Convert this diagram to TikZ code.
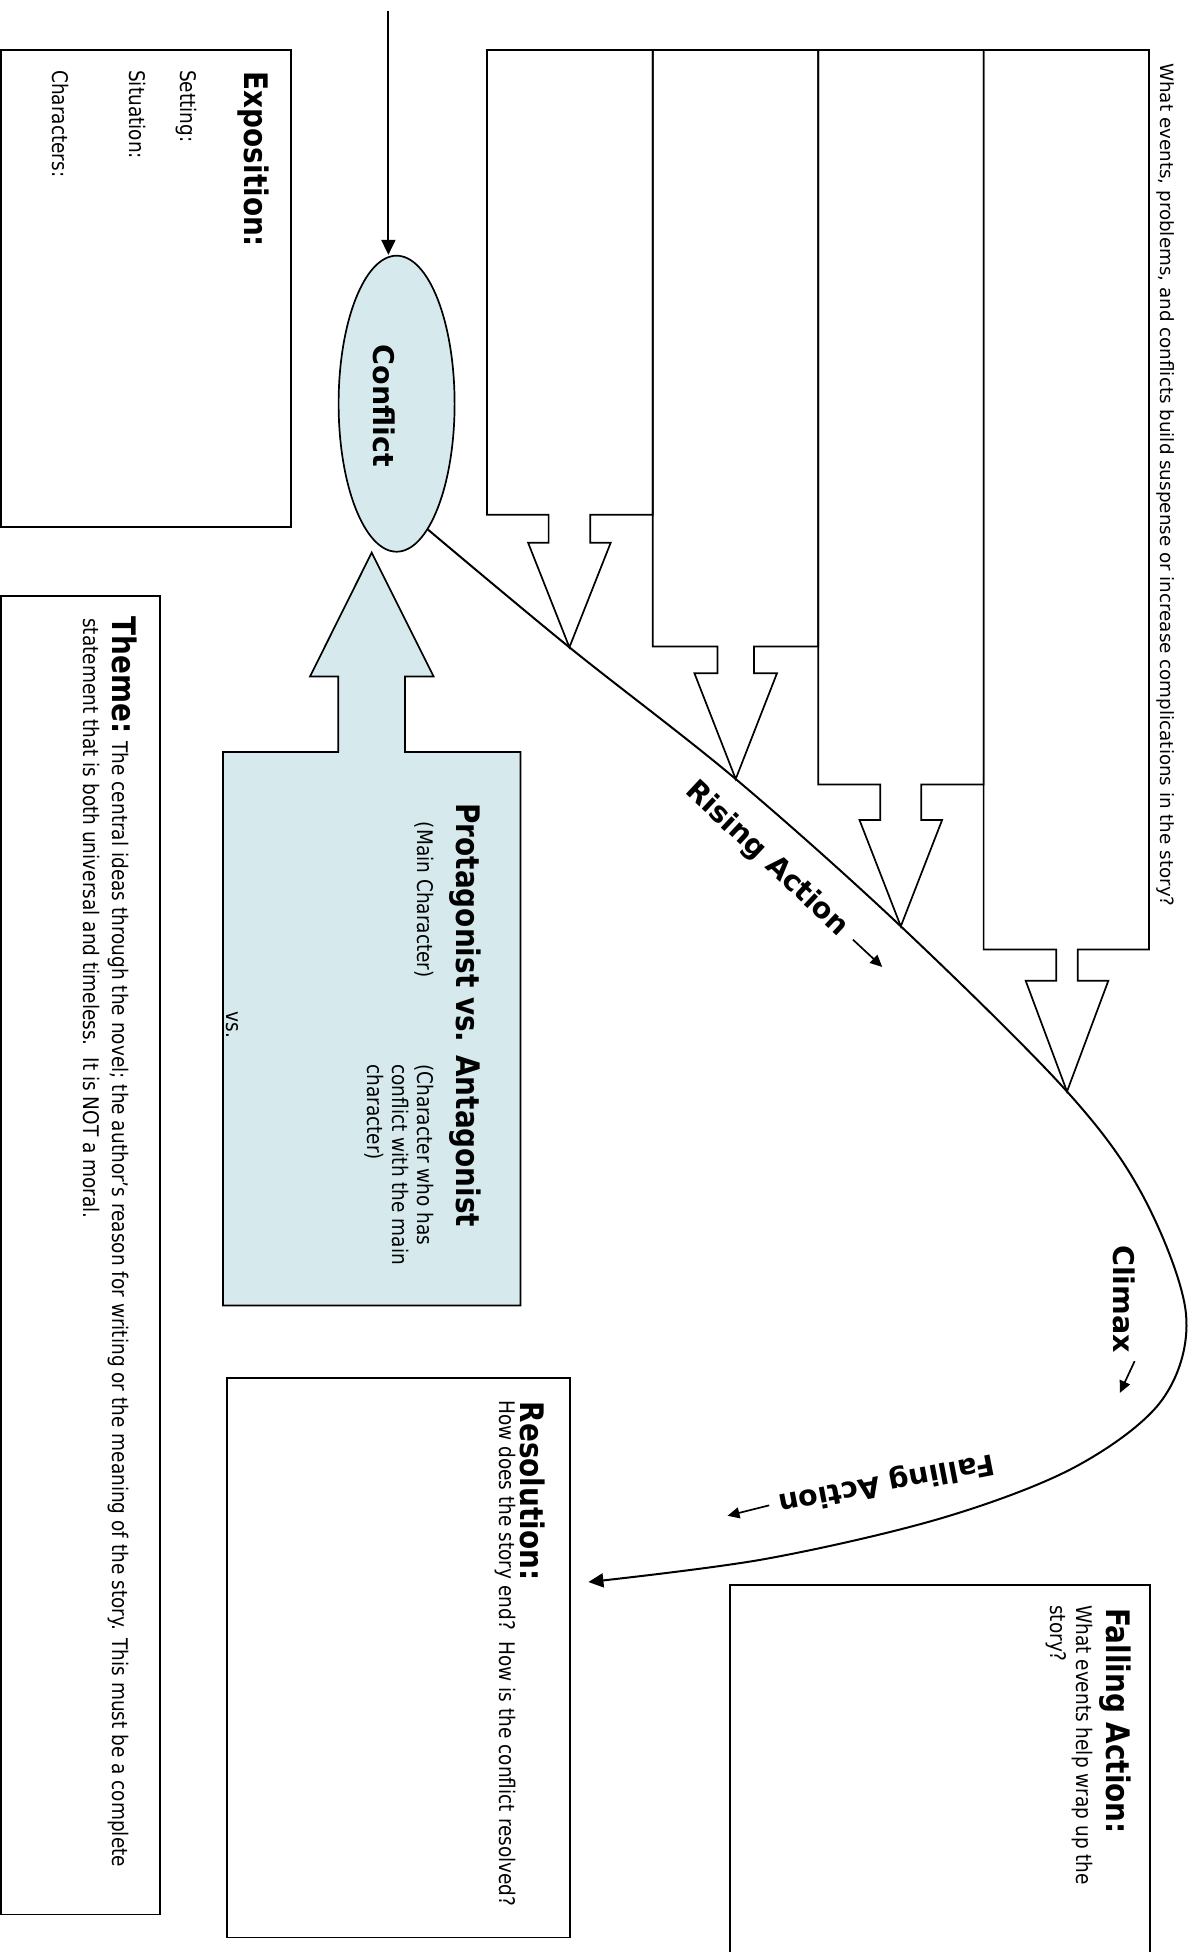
\documentclass[tikz,border=0pt]{standalone}
\usepackage{fontspec}
\setmainfont{DejaVu Sans}
\newfontfamily\narrowfont[FakeStretch=0.86]{DejaVu Sans}
\usetikzlibrary{arrows.meta, shapes.geometric}
\definecolor{paleblue}{RGB}{214,234,238}
\newcommand{\headfont}{\narrowfont\bfseries\fontsize{32.4}{37}\selectfont}
\newcommand{\bodyfont}{\narrowfont\fontsize{21.5}{25}\selectfont}
\newcommand{\curvefont}{\bfseries\fontsize{28.5}{32}\selectfont}
\newcommand{\topfont}{\fontsize{18.3}{22}\selectfont}
\tikzset{
  outline/.style={draw, line width=1.7pt, line join=miter},
  txt/.style={anchor=base west, inner sep=0pt},
  arr/.style={line width=2pt, -{Triangle[length=15pt,width=14pt]}},
  smallarr/.style={line width=1.7pt, -{Triangle[length=12pt,width=11pt]}},
}

\begin{document}
\begin{tikzpicture}[x=1pt,y=1pt]
\begin{scope}[rotate=-90, transform shape]
\useasboundingbox (0,0) rectangle (1952,1193);

% boxes for the rising events
\foreach \i/\ylo/\yhi/\xr/\sw/\xs/\xt/\c in {1/487/652.8/514.7/20.8/542.7/647.3/569.4, 2/652.8/818.2/646.4/18.3/673.2/779/735.7, 3/818.2/983.6/784.4/20.5/820/926.3/900.8, 4/983.6/1149/949.5/10.8/980.8/1091.5/1067}{
  \coordinate (tip\i) at (\xt,\c);
  \draw[outline] (50,\ylo) -- (\xr,\ylo) -- (\xr,\c-\sw) -- (\xs,\c-\sw) -- (\xs,\c-41.3) -- (tip\i)
    -- (\xs,\c+41.3) -- (\xs,\c+\sw) -- (\xr,\c+\sw) -- (\xr,\yhi) -- (50,\yhi) -- cycle;
}
\node[txt, font=\topfont] (events) at (63,1160) {What events, problems, and conflicts build suspense or increase complications in the story?};

% exposition
\draw[outline] (50,1) rectangle (527,291);
\node[txt, font=\headfont] (expo) at (71.7,244) {Exposition:};
\foreach \lbl/\yy [count=\k] in {Setting:/180.5, Situation:/129.5, Characters:/52.7}
  \node[txt, font=\bodyfont] (expo\k) at (70,\yy) {\lbl};

% conflict
\node[ellipse, draw, line width=1.7pt, fill=paleblue, minimum width=296pt, minimum height=116pt, inner sep=0pt] (conf) at (403.7,396.6) {};
\node[anchor=base, inner sep=0pt, font=\curvefont] (conftext) at (405.6,373) {Conflict};
\coordinate (topin) at (10.7,388.4);
\draw[arr] (topin) -- (topin -| conf.west);

% protagonist vs antagonist
\draw[outline, fill=paleblue] (752,223) -- (1305.5,223) -- (1305.5,520.5) -- (752,520.5) -- (752,404.9)
  -- (676.5,404.9) -- (676.5,433.6) -- (552.6,371.7) -- (676.5,310) -- (676.5,338.3) -- (752,338.3) -- cycle;
\node[txt, font=\headfont] (prot) at (803.3,456) {Protagonist vs. Antagonist};
\node[txt, font=\bodyfont] (mainchar) at (821.7,417) {(Main Character)};
\foreach \lbl/\yy [count=\k] in {{(Character who has}/417, {conflict with the main}/392, {character)}/367}
  \node[txt, font=\bodyfont] (antag\k) at (1064,\yy) {\lbl};
\node[txt, font=\bodyfont] (vs) at (1011.7,226) {vs.};

% theme
\draw[outline] (596,1) rectangle (1914.6,160);
\node[txt, font=\bodyfont] (theme1) at (616.7,112) {{\headfont Theme:} The central ideas through the novel; the author’s reason for writing or the meaning of the story. This must be a complete};
\node[txt, font=\bodyfont] (theme2) at (618,83.5) {statement that is both universal and timeless.\ \ It is NOT a moral.};

% resolution
\draw[outline] (1378,227) rectangle (1937.6,570);
\node[txt, font=\headfont] (reshead) at (1401.7,520) {Resolution:};
\node[txt, font=\bodyfont] (resbody) at (1400,499) {How does the story end?\ \ How is the conflict resolved?};

% falling action
\draw[outline] (1952,729.8) -- (1584.8,729.8) -- (1584.8,1149.7) -- (1952,1149.7);
\node[txt, font=\headfont] (fallhead) at (1608.3,1106) {Falling Action:};
\node[txt, font=\bodyfont] (fallbody1) at (1605,1076) {What events help wrap up the};
\node[txt, font=\bodyfont] (fallbody2) at (1605,1050) {story?};

% plot line
\coordinate (resend) at (1582,588.4);
\draw[arr] plot[smooth, tension=0.55] coordinates {(conf.14) (tip1) (tip2) (tip3) (tip4) (1196,1143) (1314,1186) (1400,1162) (1467,1075) (1518,942) (1559,765) (resend)};

\node[font=\curvefont, inner sep=0pt, rotate=47] (rise) at (859.3,766.8) {Rising Action};
\draw[smallarr] (rise.east) ++(47:12) -- ++(47:40);
\node[txt, font=\curvefont] (climax) at (1245,1113) {Climax};
\draw[smallarr] (climax.east) ++(8,11) -- ++(-25:35);
\node[font=\curvefont, inner sep=0pt, rotate=-79] (fall) at (1482.5,886.8) {Falling Action};
\draw[smallarr] (fall.east) ++(-79:10) -- ++(-76:43);
\end{scope}
\end{tikzpicture}
\end{document}
